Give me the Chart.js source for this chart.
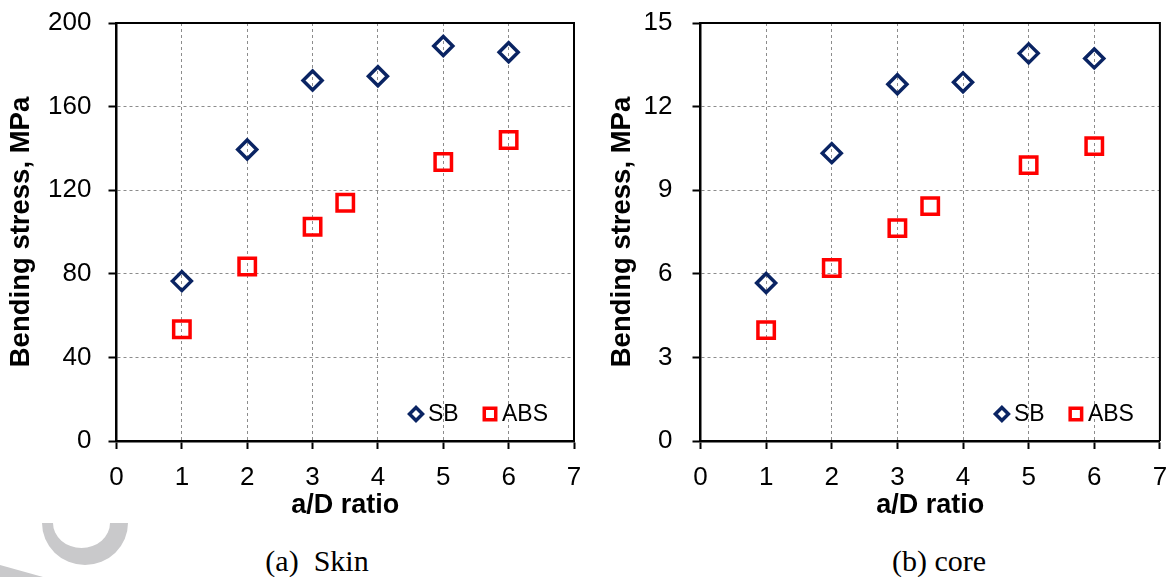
<!DOCTYPE html>
<html>
<head>
<meta charset="utf-8">
<script src="https://cdn.jsdelivr.net/npm/chart.js@4.4.1/dist/chart.umd.min.js"></script>
<style>
  html, body { margin: 0; padding: 0; background: #fff; }
  body { width: 1171px; height: 577px; position: relative; overflow: hidden; }
  .box { position: absolute; top: 0; height: 530px; }
  .cap { position: absolute; top: 544px; font: 30px 'Liberation Serif', 'Times New Roman', serif; color: #000; white-space: pre; transform: translateX(-50%); }
  svg.deco { position: absolute; left: 0; top: 0; }
</style>
</head>
<body>
<svg class="deco" width="200" height="577">
  <path d="M42,523 A43 42 0 0 0 128,523 L110,523 A28.5 25 0 0 1 53,523 Z" fill="#c9c9cb"/>
  <path d="M0,565 L43,577 L0,577 Z" fill="#c9c9cb"/>
</svg>
<div class="box" style="left:0;width:590px"><canvas id="skin"></canvas></div>
<div class="box" style="left:584px;width:591px"><canvas id="core"></canvas></div>
<div class="cap" style="left:317px">(a)  Skin</div>
<div class="cap" style="left:939px">(b) core</div>
<script>
// a/D ratios where each series was measured
var sbRatio = [1, 2, 3, 4, 5, 6];
var absRatio = [1, 2, 3, 3.5, 5, 6];

// bending stress (MPa), skin layer
var skinSB = [76.5, 139.5, 172.5, 174.5, 189, 186];
var skinABS = [53.5, 83.5, 102.5, 114, 133.5, 144];

// bending stress (MPa), core layer
var coreSB = [5.67, 10.33, 12.8, 12.87, 13.91, 13.73];
var coreABS = [3.98, 6.21, 7.64, 8.43, 9.9, 10.58];

var seriesNames = ['SB', 'ABS'];
var navy = '#0a2463';
var red = '#ff0000';
var sansFont = "'Liberation Sans', Arial, sans-serif";

function pts(xs, ys) {
  return xs.map(function (x, i) { return { x: x, y: ys[i] }; });
}

// box round the plot area plus the legend in its lower right corner
var framePlugin = {
  id: 'frame',
  afterDraw: function (chart) {
    var ctx = chart.ctx, a = chart.chartArea;
    ctx.save();
    ctx.strokeStyle = '#000';
    ctx.lineWidth = 2;
    ctx.beginPath();
    ctx.moveTo(a.left, a.top);
    ctx.lineTo(a.right, a.top);
    ctx.lineTo(a.right, a.bottom);
    ctx.stroke();

    var x = a.right - 158, y = a.bottom - 27;
    ctx.font = '23px ' + sansFont;
    ctx.textBaseline = 'middle';
    chart.data.datasets.forEach(function (ds, i) {
      var mx = x + i * 74;
      ctx.fillStyle = '#fff';
      ctx.strokeStyle = ds.borderColor;
      ctx.lineWidth = 3.5;
      Chart.helpers.drawPoint(ctx, {
        pointStyle: ds.pointStyle,
        radius: ds.pointStyle === 'rect' ? 8.1 : 6.5,
        borderWidth: 3.5,
        rotation: 0
      }, mx, y);
      ctx.fillStyle = '#000';
      ctx.fillText(ds.label, mx + 12, y + 1);
    });
    ctx.restore();
  }
};

function makeChart(id, sb, abs, yMax, yStep, opt) {
  var ctx = document.getElementById(id).getContext('2d');
  return new Chart(ctx, {
    type: 'scatter',
    data: {
      datasets: [{
        label: seriesNames[0],
        data: pts(sbRatio, sb),
        pointStyle: 'rectRot',
        radius: 9.5,
        hoverRadius: 9.5,
        borderWidth: 3.5,
        borderColor: navy,
        backgroundColor: 'rgba(0,0,0,0)'
      }, {
        label: seriesNames[1],
        data: pts(absRatio, abs),
        pointStyle: 'rect',
        radius: 11.6,
        hoverRadius: 11.6,
        borderWidth: 3.5,
        borderColor: red,
        backgroundColor: 'rgba(0,0,0,0)'
      }]
    },
    options: {
      responsive: true,
      maintainAspectRatio: false,
      animation: false,
      layout: { padding: { top: 23, right: opt.padRight, left: 0, bottom: 0 } },
      plugins: { legend: { display: false }, tooltip: { enabled: false } },
      scales: {
        x: {
          type: 'linear',
          min: 0, max: 7,
          afterFit: function (s) { s.height = 89; s.paddingLeft = 0; s.paddingRight = 0; },
          ticks: { stepSize: 1, padding: 13, color: '#000', font: { family: sansFont, size: 26 } },
          grid: { color: '#8c8c8c', lineWidth: 1, tickLength: 8, tickColor: '#000', tickWidth: 2 },
          border: { color: '#000', width: 2.5, dash: [3, 3] },
          title: { display: true, text: 'a/D ratio', color: '#000', padding: { top: 0, bottom: 8 },
                   font: { family: sansFont, size: 27, weight: 'bold' } }
        },
        y: {
          min: 0, max: yMax,
          afterFit: function (s) { s.width = 116.5; s.paddingTop = 0; s.paddingBottom = 0; },
          ticks: { stepSize: yStep, padding: opt.tickPad, color: '#000', font: { family: sansFont, size: 26 } },
          grid: { color: '#8c8c8c', lineWidth: 1, tickLength: 8, tickColor: '#000', tickWidth: 2 },
          border: { color: '#000', width: 2.5, dash: [3, 3] },
          title: { display: true, text: 'Bending stress, MPa', color: '#000', padding: { top: opt.titlePad, bottom: 0 },
                   font: { family: sansFont, size: 27.5, weight: 'bold' } }
        }
      }
    },
    plugins: [framePlugin]
  });
}

makeChart('skin', skinSB, skinABS, 200, 40, { padRight: 16, tickPad: 17, titlePad: 5 });
makeChart('core', coreSB, coreABS, 15, 3, { padRight: 15, tickPad: 20, titlePad: 22 });
</script>
</body>
</html>
